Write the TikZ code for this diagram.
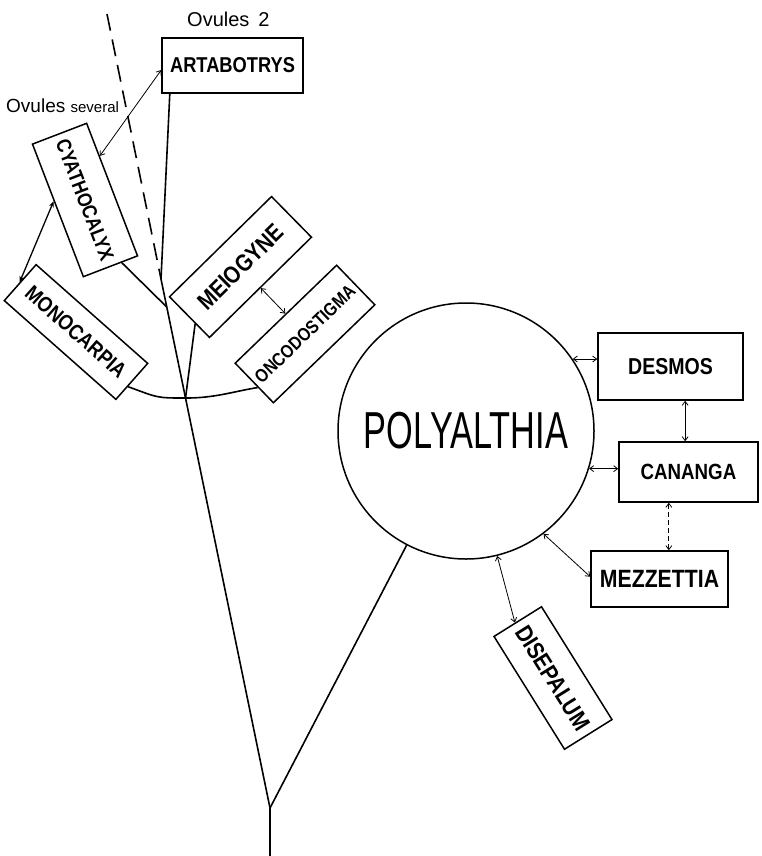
\documentclass[tikz,border=0pt]{standalone}
\usepackage{fontspec}
\setmainfont{Liberation Sans}
\newfontfamily\hand[FakeStretch=0.85]{Liberation Sans}
\newfontfamily\bigfont[FakeStretch=0.66]{Liberation Sans}
\usetikzlibrary{calc,arrows.meta}
\begin{document}
\begin{tikzpicture}[x=1pt,y=-1pt,
  box/.style={draw, line width=1.5pt, rectangle, inner sep=0pt},
  link/.style={line width=0.8pt, {Straight Barb[length=4pt,width=6pt]}-{Straight Barb[length=4pt,width=6pt]}},
  stem/.style={line width=1.6pt},
  fs/.style={font={\hand\bfseries\fontsize{#1}{#1}\selectfont}}
]
\useasboundingbox[fill=white] (0,0) rectangle (762,856);

% boxes
\node[box, fs=21.5, minimum width=141pt, minimum height=55pt] (arta) at (232.5,65.5) {ARTABOTRYS};
\node[box, fs=20.5, rotate=-69, minimum width=142pt, minimum height=58pt] (cyath) at (85,200) {CYATHOCALYX};
\node[box, fs=21.5, rotate=-41.5, minimum width=149pt, minimum height=48pt] (mono) at (76,332) {MONOCARPIA};
\node[box, fs=24, rotate=44.5, minimum width=143pt, minimum height=57pt] (meio) at (240.5,267) {MEIOGYNE};
\node[box, fs=18.5, rotate=44, minimum width=141pt, minimum height=55pt] (onco) at (305,334) {ONCODOSTIGMA};
\node[circle, draw, line width=1.5pt, minimum size=256pt, inner sep=0pt,
      font={\bigfont\fontsize{52}{52}\selectfont}] (poly) at (466,431) {POLYALTHIA};
\node[box, fs=23, minimum width=145pt, minimum height=67pt] (desmos) at (670.5,366.5) {DESMOS};
\node[box, fs=22, minimum width=139pt, minimum height=60pt] (cananga) at (688.5,472) {CANANGA};
\node[box, fs=25, minimum width=137pt, minimum height=56pt] (mezz) at (659.5,579) {MEZZETTIA};
\node[box, fs=24, rotate=-58, minimum width=133pt, minimum height=56pt] (dise) at (553,678) {DISEPALUM};

% labels
\node[anchor=base west, inner sep=0pt, font=\fontsize{20}{20}\selectfont] (ov2) at (187,27) {Ovules\hspace{9pt}2};
\node[anchor=base west, inner sep=0pt] (ovs) at (6,113) {\fontsize{19}{19}\selectfont Ovules \fontsize{15}{15}\selectfont several};

% stem
\coordinate (top) at (161,279);
\coordinate (fork) at (270,808);
\coordinate (base) at (270,856);
\coordinate (dtop) at (107,14);
\coordinate (j) at ($(top)!0.225!(fork)$);
\coordinate (jc) at ($(top)!0.053!(fork)$);

\draw[line width=2.8pt] (base) -- (fork);
\draw[stem] (fork) -- (top);
\draw[stem] ($(arta.south west)!0.06!(arta.south east)$) -- (top);
\draw[stem, dash pattern=on 17pt off 9pt] (dtop) -- (top);
\draw[stem] (fork) -- (poly);
\draw[stem] ($(cyath.south east)!0.7!(cyath.north east)$) -- (jc);
\draw[stem] ($(meio.north west)!0.65!(meio.south west)$) -- (j);
\draw[stem] ($(mono.south east)!0.37!(mono.north east)$) .. controls +(30,11) and +(-30,0) .. (j)
  .. controls +(30,0) and +(-25,4) .. ($(onco.north west)!0.6!(onco.south west)$);

% links
\draw[link] ($(cyath.north west)!0.25!(cyath.north east)$) -- ($(arta.north west)!0.58!(arta.south west)$);
\draw[line width=1.3pt, {Stealth[length=6pt,width=5pt]}-{Stealth[length=6pt,width=5pt]}] (mono.west) -- ($(cyath.south west)!0.43!(cyath.south east)$);
\draw[link] (meio) -- (onco);

\coordinate (dc) at ($(desmos.south west)!0.6!(desmos.south east)$);
\coordinate (cc) at ($(cananga.south west)!0.36!(cananga.south east)$);
\draw[link] (poly.34) -- (poly.34 -| desmos.west);
\draw[link] (dc) -- (dc |- cananga.north);
\draw[link] (poly.-17) -- (poly.-17 -| cananga.west);
\draw[link, dash pattern=on 5pt off 3pt] (cc) -- (cc |- mezz.north);
\draw[link] (poly.-53.6) -- ($(mezz.north west)!0.46!(mezz.south west)$);
\draw[link] (poly.-76) -- ($(dise.south west)!0.45!(dise.north west)$);
\end{tikzpicture}
\end{document}
